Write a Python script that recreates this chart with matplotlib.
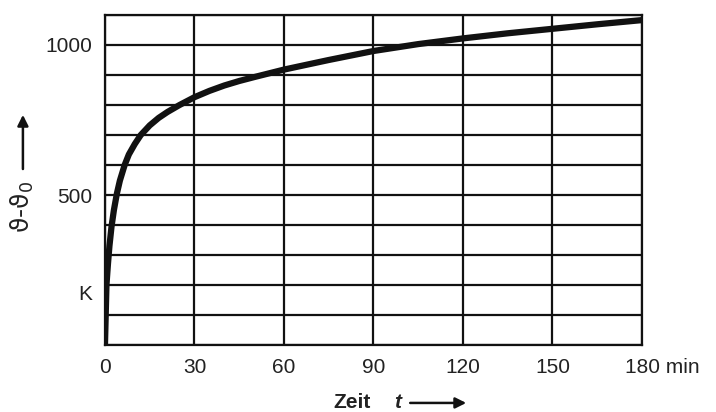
import matplotlib.pyplot as plt
import matplotlib.transforms as mtransforms

# Einheits-Temperaturzeitkurve
zeit = [0, 0.5, 1.0, 1.5, 2.2, 3.0, 4.0, 5.0, 6.6, 8.0, 10, 12, 15, 18, 21, 25,
        30, 35, 40, 45, 50, 60, 75, 90, 105, 120, 135, 150, 165, 180]
temp = [0, 200, 270, 330, 395, 450, 505, 548, 600, 635, 670, 700, 732, 757,
        777, 800, 826, 847, 865, 880, 893, 918, 950, 980, 1003, 1022, 1039,
        1054, 1069, 1083]

x_ticks = [0, 30, 60, 90, 120, 150, 180]
x_labels = ["0", "30", "60", "90", "120", "150", "180 min"]
y_grid = list(range(0, 1101, 100))

plt.rcParams['font.family'] = ['Liberation Sans', 'DejaVu Sans']

fig = plt.figure(figsize=(7.16, 4.12), dpi=100)
ax = fig.add_axes([0.1466, 0.1626, 0.75, 0.801])

ax.set_xlim(0, 180)
ax.set_ylim(0, 1100)

# Gitter
for y in y_grid:
    ax.axhline(y, color='#111111', lw=1.6, zorder=1)
for x in x_ticks:
    ax.axvline(x, color='#111111', lw=1.6, zorder=1)

ax.plot(zeit, temp, color='#111111', lw=4.5, solid_capstyle='butt',
        solid_joinstyle='round', zorder=3)

for s in ax.spines.values():
    s.set_linewidth(1.6)
    s.set_color('#111111')

ax.set_xticks(x_ticks)
ax.set_xticklabels(x_labels, fontsize=15, color='#222222')
ax.set_yticks([500, 1000])
ax.set_yticklabels(["500", "1000"], fontsize=15, color='#222222')
ax.tick_params(axis='x', length=0, pad=9)
ax.tick_params(axis='y', length=0, pad=9)

# "180" mittig unter der Linie, "min" dahinter
last = ax.get_xticklabels()[-1]
last.set_horizontalalignment('left')
off = mtransforms.ScaledTranslation(-12 / 72, 0, fig.dpi_scale_trans)
last.set_transform(last.get_transform() + off)

ax.text(-4.4, 167, "K", fontsize=15, color='#222222', ha='right', va='center')

# y-Achsenbeschriftung mit Pfeil
fig.text(0.031, 0.497, "ϑ-ϑ$_0$", rotation=90, fontsize=18, color='#222222',
         ha='center', va='center', family=['DejaVu Sans'])
ax.annotate("", xy=(0.032, 0.728), xytext=(0.032, 0.583), xycoords='figure fraction',
            annotation_clip=False,
            arrowprops=dict(arrowstyle='-|>', color='#111111', lw=1.8, mutation_scale=16))

# x-Achsenbeschriftung mit Pfeil
fig.text(0.492, 0.024, "Zeit", fontsize=15, fontweight='bold', color='#222222',
         ha='center', va='center')
fig.text(0.556, 0.024, "t", fontsize=15, fontweight='bold', style='italic',
         color='#222222', ha='center', va='center')
ax.annotate("", xy=(0.655, 0.022), xytext=(0.569, 0.022), xycoords='figure fraction',
            annotation_clip=False,
            arrowprops=dict(arrowstyle='-|>', color='#111111', lw=1.8, mutation_scale=16))

fig.savefig("out.png", dpi=100)
